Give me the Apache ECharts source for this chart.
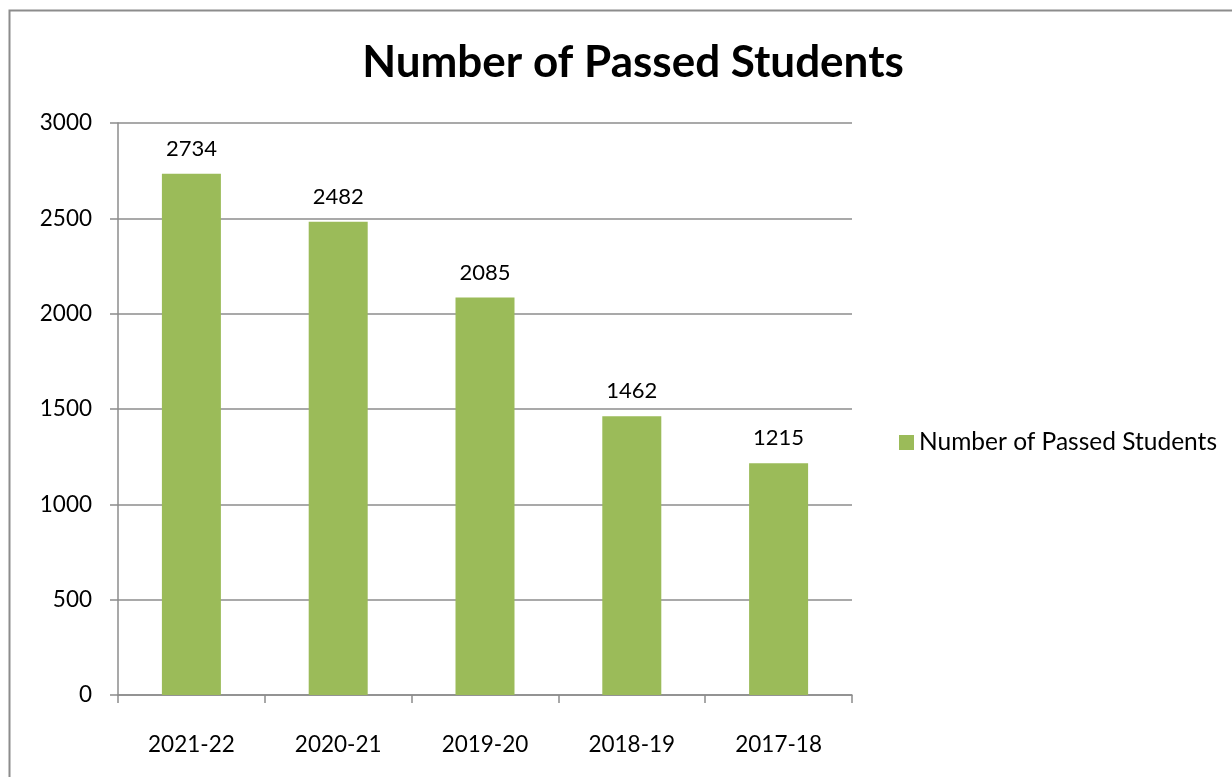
<!DOCTYPE html>
<html><head><meta charset="utf-8">
<script src="https://cdn.jsdelivr.net/npm/echarts@6/dist/echarts.min.js"></script>
<style>html,body{margin:0;padding:0;background:#fff}#c{width:1232px;height:777px}</style>
</head><body><div id="c"></div>
<script>
const categories = ['2021-22','2020-21','2019-20','2018-19','2017-18'];
const passed = [2734, 2482, 2085, 1462, 1215];
const seriesName = 'Number of Passed Students';
const titleText = 'Number of Passed Students';
const FONT = 'Lato';
const chart = echarts.init(document.getElementById('c'));
chart.setOption({
  animation: false,
  backgroundColor: '#fff',
  graphic: [{
    type: 'rect', shape: {x: 9.5, y: 10.5, width: 1240, height: 800},
    style: {fill: 'none', stroke: '#8c8c8c', lineWidth: 2}, silent: true
  }],
  title: {
    text: titleText, left: 628, top: 36, textAlign: 'center',
    textStyle: {fontFamily: FONT, fontWeight: 'bold', fontSize: 44, color: '#000'}
  },
  legend: {
    data: [seriesName], left: 894, top: 425, orient: 'vertical',
    icon: 'rect', itemWidth: 15, itemHeight: 15, itemGap: 8,
    textStyle: {fontFamily: FONT, fontSize: 24.5, color: '#000'}
  },
  grid: {left: 118, right: 1232 - 852, top: 123, bottom: 777 - 695, containLabel: false},
  xAxis: {
    type: 'category', data: categories,
    axisLine: {lineStyle: {color: '#8c8c8c', width: 1.5}},
    axisTick: {show: true, length: 8, alignWithLabel: false, lineStyle: {color: '#8c8c8c', width: 1.5}},
    axisLabel: {fontFamily: FONT, fontSize: 22.5, color: '#000', margin: 38}
  },
  yAxis: {
    type: 'value', min: 0, max: 3000, interval: 500,
    axisLine: {show: true, lineStyle: {color: '#8c8c8c', width: 1.5}},
    axisTick: {show: true, length: 8, lineStyle: {color: '#8c8c8c', width: 1.5}},
    splitLine: {lineStyle: {color: '#8c8c8c', width: 1.5}},
    axisLabel: {fontFamily: FONT, fontSize: 22.5, color: '#000', margin: 26, formatter: v => String(v)}
  },
  series: [{
    name: seriesName, type: 'bar', data: passed, barWidth: 59,
    itemStyle: {color: '#9bbb59'},
    label: {show: true, position: 'top', distance: 14, fontFamily: FONT, fontSize: 22, color: '#000'}
  }]
});
</script></body></html>
